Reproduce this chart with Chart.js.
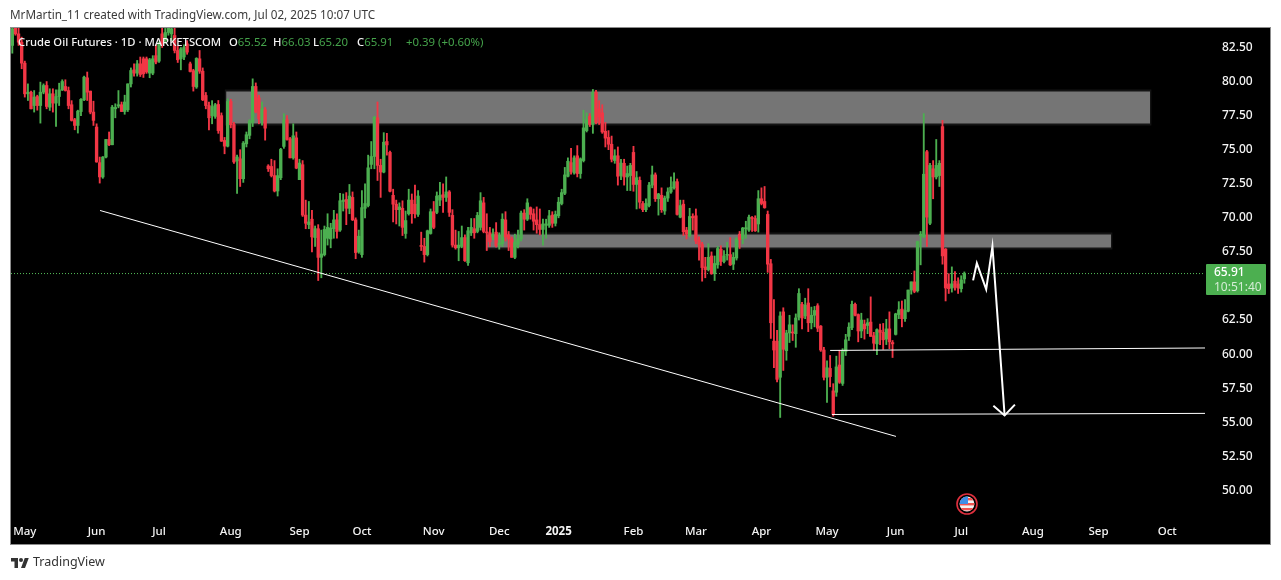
<!DOCTYPE html>
<html><head><meta charset="utf-8">
<script src="https://cdn.jsdelivr.net/npm/chart.js@4"></script>
<style>
html,body{margin:0;padding:0;background:#fff;overflow:hidden}
body{width:1281px;height:580px;position:relative;font-family:"Noto Sans",sans-serif}
#frame{position:absolute;left:10px;top:27px;width:1259px;height:516px;background:#000;border:1px solid #8c8c8c}
canvas{position:absolute;left:0;top:0}
.t{position:absolute;white-space:pre;line-height:14px}
#head{left:10px;top:7px;font-size:11.7px;color:#3a3a3a}
#foot{left:33px;top:555px;font-size:12.5px;color:#333}
.lg{top:35px;font-size:11.25px;color:#f4f4f4;font-weight:500}
.lg b{font-weight:400;color:#45a34b;font-size:11.4px}
#tag{position:absolute;left:1206px;top:264px;width:60px;height:31px;background:#4caf50;border-radius:1px}
#logo{position:absolute;left:10px;top:556px}
#flag{position:absolute;left:956px;top:493px}
</style></head><body>
<div id="frame"></div>
<canvas id="c" width="1281" height="580" style="width:1281px;height:580px"></canvas>
<div class="t" id="head">MrMartin_11 created with TradingView.com, Jul 02, 2025 10:07 UTC</div>
<div class="t lg" style="left:18px">Crude Oil Futures · 1D · MARKETSCOM</div>
<div class="t lg" style="left:229px">O<b>65.52</b></div>
<div class="t lg" style="left:273px">H<b>66.03</b></div>
<div class="t lg" style="left:313px">L<b>65.20</b></div>
<div class="t lg" style="left:357px">C<b>65.91</b></div>
<div class="t lg" style="left:406px"><b>+0.39 (+0.60%)</b></div>
<div id="tag"></div>
<div class="t" style="left:1214px;top:265px;font-size:12px;color:#fff;font-weight:500">65.91</div>
<div class="t" style="left:1214px;top:280px;font-size:12px;color:#d4ecd5">10:51:40</div>
<svg id="logo" width="20" height="14" viewBox="0 0 36 28"><path fill="#333" d="M14 24H7V11H0V4h14v20zM28 24h-8l7.5-20h8L28 24z"/><circle fill="#333" cx="20" cy="8" r="4"/></svg>
<div class="t" id="foot">TradingView</div>
<svg id="flag" width="22" height="22" viewBox="0 0 22 22"><defs><clipPath id="cl"><circle cx="11" cy="11" r="7.4"/></clipPath></defs>
<circle cx="11" cy="11" r="10" fill="#000" stroke="#e0303e" stroke-width="1.6"/>
<g clip-path="url(#cl)"><rect x="3" y="3" width="16" height="16" fill="#f2f2f2"/><rect x="3" y="5" width="16" height="2.4" fill="#ef5350"/><rect x="3" y="10" width="16" height="2.4" fill="#ef5350"/><rect x="3" y="15" width="16" height="2.4" fill="#ef5350"/><rect x="3" y="3" width="9" height="8" fill="#3d8ee8"/></g></svg>
<script>
const opens=[
82.65,83.95,83.5,82.89,81.35,79.1,79.22,78.24,78.9,78.24,
79.22,79.71,78.12,79.1,78.42,78.9,79.39,79.64,79.34,78.3,
77.2,76.78,77.8,78.66,80.27,79.3,77.76,76.66,74.05,73.0,
74.46,75.75,75.36,78.0,78.2,78.3,77.8,77.93,79.83,80.86,
80.62,81.3,81.67,81.67,80.62,80.62,81.9,81.5,83.5,83.0,
83.6,83.5,83.38,82.28,81.67,81.8,82.77,81.3,80.8,79.6,
81.67,80.76,78.98,78.24,77.5,77.44,78.32,77.5,75.68,75.26,
78.54,76.85,74.18,74.33,72.87,75.43,76.05,77.0,79.64,78.8,
77.15,77.93,73.8,73.77,73.1,71.97,72.94,75.24,77.2,75.8,
74.4,75.87,72.8,
73.9,70.2,69.5,69.9,68.55,69.2,67.1,67.3,68.5,68.45,
69.2,69.85,69.1,71.2,71.35,70.7,71.5,69.85,67.5,67.3,
70.7,70.9,73.92,74.5,77.34,73.85,73.36,75.6,74.8,71.65,
71,70.6,70.7,68.85,70.3,71.3,71,70.25,67.97,67.9,
67.3,68.85,70.45,70.4,71.3,71.7,71.5,71.9,70.18,68,
67.8,67.9,68.55,66.7,68.9,69.2,69,69.3,71.1,68.95,
68.9,68.6,68.95,68,68.1,69.85,68.75,68.45,67.1,68.05,
68.45,70.35,69.9,70.75,70.3,69.85,69.5,69.15,69.45,69.45,
70.2,69.6,70.15,71.05,71.8,73.05,74.05,73.3,74.55,73.25,
74.2,76.4,77.45,76.85,79.22,78,77.7,76.35,75.9,75.4,
74.2,74.55,
73.1,74,73,73.1,74.8,72.45,72.75,71.05,70.6,70.9,
72.4,73.15,71.4,71.65,70.5,71.45,71.9,72.2,72.65,70.05,
71,69.1,68.7,70.1,70.15,68.35,68.05,66.4,66.2,67.2,
65.9,66.55,67.7,66.8,67.25,67.3,66.6,67.05,68.8,68.45,
69.2,69.1,70,69.95,69.55,71.4,71.2,70.25,66.63,60.95,
60.95,58.3,63.1,60.25,61.55,61.6,61.5,62.7,63.65,62.8,
63.75,62.3,62.85,63.55,62.05,60.3,58.3,58.95,57.3,57.2,
59.2,57.85,60.2,61.3,61.95,63.65,62.9,61.7,62.2,62.1,
62.35,61.35,60.75,61.75,61.6,61.1,61.85,60.85,61.45,62.9,
63.3,62.6,63.15,64.7,65.3,64.65,68.7,68.6,74.85,69.6,
73.6,73,73.1,76.7,67.7,65.15,64.85,65.35,65.15,64.8,
65.52];
const highs=[
83.97,84.0,84,83.26,81.5,79.83,79.3,79.34,79.0,79.96,
79.83,80.0,79.47,79.47,79.39,79.88,80.13,80.13,79.6,78.6,
77.3,77.9,78.75,80.4,80.7,79.3,78.56,76.9,74.46,74.5,
75.75,76.3,78.25,78.37,79.34,78.5,79.0,79.83,81.0,81.3,
81.55,81.8,81.8,81.8,81.7,81.9,82.7,82.9,84.0,83.9,
84,84,84,82.6,82.5,82.7,83,81.43,80.9,81.75,
82.28,81,79.2,78.5,78.6,78.4,78.61,77.7,75.9,78.73,
78.7,77,74.6,75.0,75.6,76.3,77.2,80.2,79.9,79.0,
78.5,78.1,73.9,74.3,74.2,73.6,75.1,77.64,77.5,75.9,
76.9,76.3,74.3,
74.2,71.3,71.2,70.55,69.4,69.5,69.1,69.4,70.3,69.6,
70.55,70.3,71.8,71.75,71.85,72.45,71.9,70,69.1,72,
72.5,74.6,75.6,77.45,78.5,74.3,76.25,76.2,74.9,72.1,
71.3,71.1,71.25,70.5,72.1,71.75,72.4,72,68.95,68.5,
69.1,70.65,71.2,71.9,72.6,72.5,73,72,70.6,69.1,
69,69.4,68.75,69.3,69.95,69.95,70.4,71.85,71.5,70.3,
69.3,69.2,69.65,68.9,70.3,70.45,69,68.6,68.8,69.1,
70.5,70.6,71.4,70.8,70.65,70.8,70.65,69.9,69.9,70.55,
70.45,70.5,71.5,72.1,73.7,74.4,75.1,74.55,75.3,74.4,
77.9,77.7,77.65,79.42,79.35,78.6,78.3,77,76.4,76,
75,75.2,
74.3,74.3,73.8,74,75.25,73.4,73,71.2,71.4,72.6,
73.8,73.3,71.8,72.2,71.6,72.2,73,73.3,72.85,71.3,
71.3,69.3,70.7,70.3,70.65,68.6,68.2,67.1,68.1,67.5,
67.2,67.9,67.95,67.6,68.2,68.55,67.45,68.55,69,69.3,
69.75,70.2,70.1,70.15,72,72.2,72.3,70.5,66.95,64,
61.75,63.1,63.4,61.75,62.85,62.15,62.95,64.8,63.8,64.1,
64.8,63.45,63.5,63.7,62.1,60.5,59.5,59.9,57.83,59.85,
60.28,60.4,61.45,62.3,63.9,63.75,62.95,63,62.5,62.6,
64.2,61.6,61.85,62.2,62.25,62.55,63.1,61,63,63.85,
63.9,64,64.7,65.3,66.1,68.3,69,77.65,74.95,74,
74.2,75.75,74.2,77.15,67.75,65.9,66.4,66.05,65.6,65.75,
66.03];
const lows=[
82.08,83.4,82.65,80.94,78.86,78.61,78.0,77.76,77.9,76.95,
79.1,78.0,77.88,77.76,76.7,78.24,79.34,79.3,78.0,77.1,
76.46,76.22,77.5,78.6,78.61,77.63,76.78,74.08,72.55,72.9,
74.4,75.3,75.36,77.34,78.07,77.8,77.6,77.8,79.6,80.4,
80.4,80.37,80.3,80.6,80.28,80.5,81.3,81.4,82.5,82.8,
83.4,83.0,82.1,81.4,80.86,81.6,82.0,80.7,79.3,79.5,
80.6,78.6,78.0,76.46,76.9,77.3,76.2,75.6,74.7,75.2,
76.6,74.0,71.8,72.3,72.6,75.2,75.8,76.7,77.7,76.9,
76.8,75.7,73.4,73,71.9,71.6,72.8,75.1,75.7,74.4,
74.3,73.6,72.8,
70.1,69.2,69.2,67.5,67.9,65.4,65.6,67.2,68,67.8,
68.5,68.5,69,70.5,69.5,70.3,69.8,67,67.4,67.1,
70,70.8,73.6,73.6,72.74,71.5,73.3,74.6,71.9,69.7,
69.55,69.4,68.7,68.5,70.2,69.6,70,70.1,67.6,66.75,
67.2,68.8,69.2,70.3,70.9,70.4,71.2,70.1,67.85,67.7,
66.85,67.8,66.8,66.5,68.7,68.5,68.9,69.1,68.9,67.6,
67.9,68.4,67.85,67.7,67.9,68.3,67.6,67.1,67,67.8,
68.3,69.1,69.8,69.9,69.1,68.87,68.75,68,68.5,69.3,
69.3,69.4,70,70.95,71.7,73,73.2,73.2,73,72.9,
74.1,76.3,76.7,76.2,76.9,76.85,76.2,75.2,75,74.1,
74,72.4,
72.8,72.4,72,72,71.95,70.65,70.7,70.45,70.45,70.8,
72.2,71.2,70.2,70.4,70.25,71.2,71.8,72.1,70.2,70,
68.7,68.45,68.6,69.1,68.1,66.9,65.35,65.6,66.1,65.85,
65.4,66.3,66.5,66.7,66.9,66.5,66.2,66.9,67.75,68.1,
68.5,69,69,69,68.95,70.95,70.7,66,61.15,59,
57.95,55.35,58.8,59.55,60.85,61,60.5,62.5,61.85,62.6,
61.65,61.85,62,61.65,60.2,58.1,56.45,57.6,55.45,56.9,
57.85,57.7,59.9,61,61.8,62.8,60.9,61.2,61.1,61.5,
61.3,60.3,59.95,60.7,60.35,60.7,60.4,59.75,61.4,62.6,
62,62.4,63.1,64.4,64.5,64.55,66.55,68.55,67.9,69.5,
71.4,72.85,72.3,66.6,63.9,64.45,64.55,64.7,64.45,64.55,
65.2];
const closes=[
83.87,83.5,82.89,81.35,79.1,79.22,78.0,78.86,78.24,79.22,
79.71,78.17,79.1,78.42,78.9,79.39,80.0,79.34,78.24,77.15,
76.78,77.83,78.69,80.32,79.22,77.76,77.15,74.1,73.0,74.46,
75.75,75.36,78.12,78.1,78.3,77.8,78.5,79.83,80.81,80.62,
81.3,80.52,80.57,80.7,81.6,81.67,81.43,82.77,82.77,83.6,
83.95,83.87,82.28,81.6,82.4,82.5,82.16,80.74,79.64,81.7,
80.76,78.66,78.24,77.34,78.17,78.3,76.4,75.63,75.26,78.54,
76.83,74.1,74.46,72.87,75.48,76.1,77.1,79.64,77.76,77.27,
78.0,76.58,73.6,73.1,71.97,73.1,75.02,77.2,75.75,74.4,
76.02,73.65,74.02,
70.2,69.6,69.7,68.6,69.2,67.1,67.35,69.15,69.3,69.25,
69.85,69,71.25,71.3,70.7,71.6,69.85,67.45,68.65,70.75,
71.05,73.67,74.5,77.38,73.85,73.36,75.55,75.35,71.95,71,
70.6,70.8,69.3,69.8,71.3,70.3,70.3,71.6,67.9,67.3,
69.05,70.45,69.3,71.6,71.65,71.5,71.9,70.4,68,67.8,
68,68.55,66.85,69.05,69.3,68.9,70.18,71.25,69,68.9,
68.25,68.8,67.95,68.15,69.9,68.6,68.45,67.1,68.2,68.45,
70.35,69.9,71.1,70.25,69.75,69.5,69.15,69.55,69.55,70.15,
69.6,70.25,71.15,71.85,73.15,74.15,73.4,74.4,73.25,74.33,
76.6,77.2,76.85,79.22,77,77.4,76.3,75.85,75.4,74.3,
74.55,73.05,
74.02,73,73.25,73.85,72.45,72.95,71.15,70.6,71.05,72.4,
73.15,71.4,71.75,70.6,71.45,71.9,72.25,72.65,70.25,70.9,
68.98,68.8,70.1,70,68.3,68.05,66.35,66.2,67.1,65.9,
66.65,67.75,66.8,67.2,67.3,66.55,67.1,68.45,68.4,69.25,
69.25,70.05,69.95,69.05,71.4,71.05,70.75,66.6,62.3,60.3,
58.15,62.8,60.35,61.55,62.15,61.55,62.65,64.45,62.65,63.6,
62.3,62.85,63.2,61.9,60.3,58.3,59,58.35,55.58,59.06,
57.93,60.28,61.05,61.98,63.65,62.85,61.7,62.5,61.85,62.3,
61.3,60.8,61.8,61.6,61.05,61.85,60.9,60.75,62.95,63.25,
62.6,63.2,64.7,65.3,64.6,68.25,68.8,73.2,70.05,73.85,
73,73.85,74,67.2,64.85,64.8,65.15,64.9,64.85,65.45,
65.91];
const priceTicks=[82.5,80,77.5,75,72.5,70,67.5,65,62.5,60,57.5,55,52.5,50];
const monthLabels=["May","Jun","Jul","Aug","Sep","Oct","Nov","Dec","2025","Feb","Mar","Apr","May","Jun","Jul","Aug","Sep","Oct"];
const monthBars=[4,27,47,70,92,112,135,156,175,199,219,240,261,283,304,327,348,370];
const lastPrice=[[-0.42,65.91],[382.1,65.91]];
const upperZone=[[68.5,79.27],[364.5,79.27]], upperZoneBottom=76.92;
const lowerZone=[[152.1,68.78],[352,68.78]], lowerZoneBottom=67.83;
const upperHalo=[[68,79.42],[365,79.42]], upperHaloBottom=76.77;
const lowerHalo=[[151.6,68.93],[352.5,68.93]], lowerHaloBottom=67.68;
const trendLine=[[28.1,70.54],[283.1,53.96]];
const supportA=[[262,60.27],[382.1,60.45]];
const supportB=[[262.6,55.57],[382.1,55.65]];
const pathLine=[[307.8,65.41],[309,66.67],[312,64.75],[314,67.92],[317.9,55.5]];
const arrowHead=[[314.3,56.21],[317.9,55.5],[321.2,56.29]];

const GREEN="#4caf50",RED="#f23645",ZONE="#757575",HALO="#141414";
const colors=opens.map((o,i)=>closes[i]>=o?GREEN:RED);
const pts=a=>a.map(p=>({x:p[0],y:p[1]}));
const line=(a,w,c,order,extra)=>Object.assign({type:"line",data:pts(a),borderColor:c,borderWidth:w,pointRadius:0,tension:0,fill:false,order},extra||{});
new Chart(document.getElementById("c"),{
 data:{datasets:[
  line(upperHalo,0,HALO,12,{fill:{value:upperHaloBottom},backgroundColor:HALO}),
  line(lowerHalo,0,HALO,12,{fill:{value:lowerHaloBottom},backgroundColor:HALO}),
  line(upperZone,0,ZONE,10,{fill:{value:upperZoneBottom},backgroundColor:ZONE}),
  line(lowerZone,0,ZONE,10,{fill:{value:lowerZoneBottom},backgroundColor:ZONE}),
  line(lastPrice,1,"#55c05a",8,{borderDash:[1,2]}),
  {type:"bar",data:opens.map((o,i)=>({x:i,y:[lows[i],highs[i]]})),backgroundColor:colors,barThickness:1.2,grouped:false,order:5},
  {type:"bar",data:opens.map((o,i)=>({x:i,y:[o,closes[i]]})),backgroundColor:colors,barThickness:2.7,minBarLength:1,grouped:false,order:4},
  line(trendLine,1,"#fff",1),
  line(supportA,1,"#fff",1),
  line(supportB,1,"#fff",1),
  line(pathLine,2,"#fff",1),
  line(arrowHead,2,"#fff",1)
 ]},
 options:{
  responsive:false,animation:false,devicePixelRatio:1,
  layout:{padding:{left:11,top:28,right:11,bottom:36}},
  plugins:{legend:{display:false},tooltip:{enabled:false},title:{display:false}},
  scales:{
   x:{type:"linear",offset:false,min:-0.42,max:382.1,grid:{display:false},border:{display:false},
    afterBuildTicks:s=>{s.ticks=monthBars.map(v=>({value:v}));},
    afterFit:s=>{s.height=28;},
    ticks:{autoSkip:false,maxRotation:0,padding:1,color:"#f4f4f4",
     font:c=>({family:"'Noto Sans'",size:11.5,weight:monthLabels[monthBars.indexOf(c.tick&&c.tick.value)]==="2025"?"700":"500"}),
     callback:v=>monthLabels[monthBars.indexOf(v)]}},
   y:{type:"linear",position:"right",min:48.12,max:83.93,grid:{display:false},border:{display:false},
    afterBuildTicks:s=>{s.ticks=priceTicks.map(v=>({value:v}));},
    afterFit:s=>{s.width=65;},
    ticks:{padding:9,color:"#f4f4f4",font:{family:"'Noto Sans'",size:12,weight:"500"},callback:v=>v.toFixed(2)}}
  }
 }
});
</script>
</body></html>
